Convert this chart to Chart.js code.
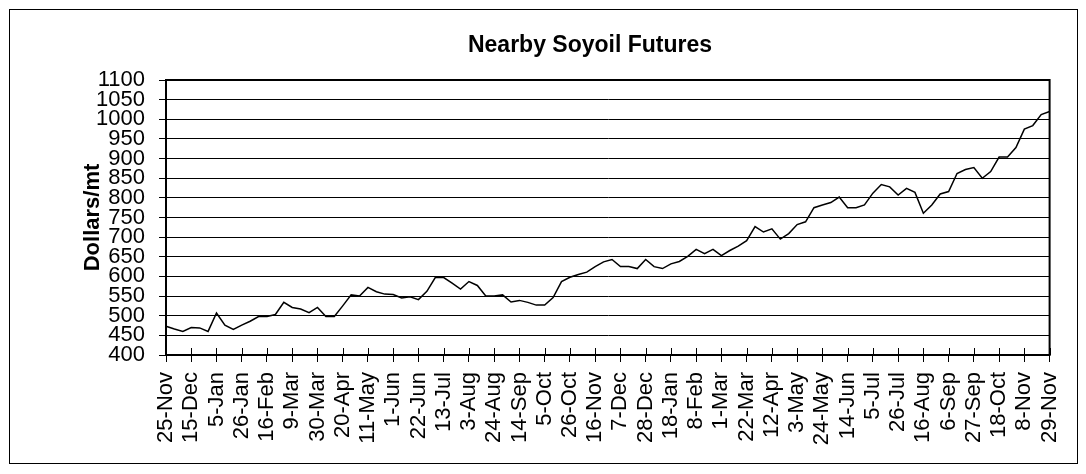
<!DOCTYPE html>
<html>
<head>
<meta charset="utf-8">
<script src="https://cdn.jsdelivr.net/npm/chart.js@4"></script>
<style>
  body { margin: 0; background: #fff; }
  #soyChart { display: block; }
</style>
</head>
<body>
<canvas id="soyChart" width="1086" height="474"></canvas>
<script>
var chartTitle = 'Nearby Soyoil Futures';
var axisTitle = 'Dollars/mt';

// one label every 3rd week
var tickLabels = ['25-Nov','15-Dec','5-Jan','26-Jan','16-Feb','9-Mar','30-Mar','20-Apr','11-May','1-Jun',
  '22-Jun','13-Jul','3-Aug','24-Aug','14-Sep','5-Oct','26-Oct','16-Nov','7-Dec','28-Dec',
  '18-Jan','8-Feb','1-Mar','22-Mar','12-Apr','3-May','24-May','14-Jun','5-Jul','26-Jul',
  '16-Aug','6-Sep','27-Sep','18-Oct','8-Nov','29-Nov'];

// weekly prices, dollars/mt
var prices = [473,466,460,470,469,460,507,476,465,476,
  486,498,498,503,534,521,517,508,521,498,
  498,525,553,550,572,561,555,554,545,548,
  541,562,597,597,583,568,587,577,550,550,
  553,535,539,534,527,527,546,587,598,605,
  611,625,637,643,625,625,620,643,625,620,
  632,638,651,669,658,669,653,666,677,691,
  727,713,721,695,709,732,739,775,782,788,
  802,775,775,782,812,834,828,807,824,814,
  761,782,810,816,862,872,877,850,867,904,
  904,928,975,984,1012,1020];

var yMin = 400, yMax = 1100, yStep = 50;

var weeks = [];
for (let i = 0; i < prices.length; i++) {
  weeks.push(i % 3 === 0 ? tickLabels[i / 3] : '');
}

var fontFam = '"Liberation Sans", Arial, sans-serif';

var framePlugin = {
  id: 'frame',
  beforeDraw: function(chart) {
    var ctx = chart.ctx;
    ctx.save();
    ctx.fillStyle = '#fff';
    ctx.fillRect(0, 0, chart.width, chart.height);
    ctx.strokeStyle = '#000';
    ctx.lineWidth = 1;
    ctx.strokeRect(9.5, 9.5, 1068, 454);
    ctx.restore();
  },
  afterDraw: function(chart) {
    var ctx = chart.ctx;
    var a = chart.chartArea;
    var xs = chart.scales.x;
    ctx.save();
    ctx.strokeStyle = '#000';
    ctx.lineWidth = 2;
    ctx.strokeRect(a.left, a.top, a.right - a.left, a.bottom - a.top);
    // inner half of the crossing tick marks
    ctx.lineWidth = 1;
    ctx.beginPath();
    for (let i = 0; i < xs.ticks.length; i++) {
      var px = Math.round(xs.getPixelForTick(i)) + 0.5;
      ctx.moveTo(px, a.bottom - 7);
      ctx.lineTo(px, a.bottom);
    }
    ctx.stroke();
    ctx.font = 'bold 23px ' + fontFam;
    ctx.fillStyle = '#000';
    ctx.textAlign = 'center';
    ctx.textBaseline = 'middle';
    ctx.fillText(chartTitle, 590, 46);
    ctx.restore();
  }
};

function drawChart() {
  var ctx = document.getElementById('soyChart').getContext('2d');

  var options = {
    responsive: false,
    animation: false,
    devicePixelRatio: 1,
    layout: { padding: { left: 0, right: 30, top: 80, bottom: 0 } },
    plugins: {
      legend: { display: false },
      tooltip: { enabled: false },
      title: { display: false }
    },
    scales: {
      x: {
        type: 'category',
        offset: false,
        afterBuildTicks: function(scale) {
          scale.ticks = scale.ticks.filter(function(t, i) { return i % 3 === 0; });
        },
        afterFit: function(scale) { scale.height = 119; },
        ticks: {
          autoSkip: false,
          minRotation: 90,
          maxRotation: 90,
          padding: 10,
          color: '#000',
          font: { family: fontFam, size: 22 }
        },
        grid: {
          drawOnChartArea: false,
          drawTicks: true,
          tickLength: 7,
          color: '#000',
          lineWidth: 1
        },
        border: { color: '#000', width: 2 }
      },
      y: {
        min: yMin,
        max: yMax,
        afterFit: function(scale) { scale.width = 166; },
        ticks: {
          stepSize: yStep,
          autoSkip: false,
          padding: 14,
          color: '#000',
          font: { family: fontFam, size: 22 },
          callback: function(v) { return String(v); }
        },
        grid: {
          color: '#000',
          lineWidth: 1,
          tickLength: 7
        },
        border: { color: '#000', width: 2 },
        title: {
          display: true,
          text: axisTitle,
          color: '#000',
          padding: { top: 80, bottom: 0 },
          font: { family: fontFam, size: 22, weight: 'bold' }
        }
      }
    }
  };

  new Chart(ctx, {
    type: 'line',
    data: {
      labels: weeks,
      datasets: [{
        label: chartTitle,
        data: prices,
        borderColor: '#000',
        borderWidth: 1.5,
        pointRadius: 0,
        tension: 0,
        fill: false
      }]
    },
    options: options,
    plugins: [framePlugin]
  });
}

document.addEventListener('DOMContentLoaded', drawChart);
</script>
</body>
</html>
